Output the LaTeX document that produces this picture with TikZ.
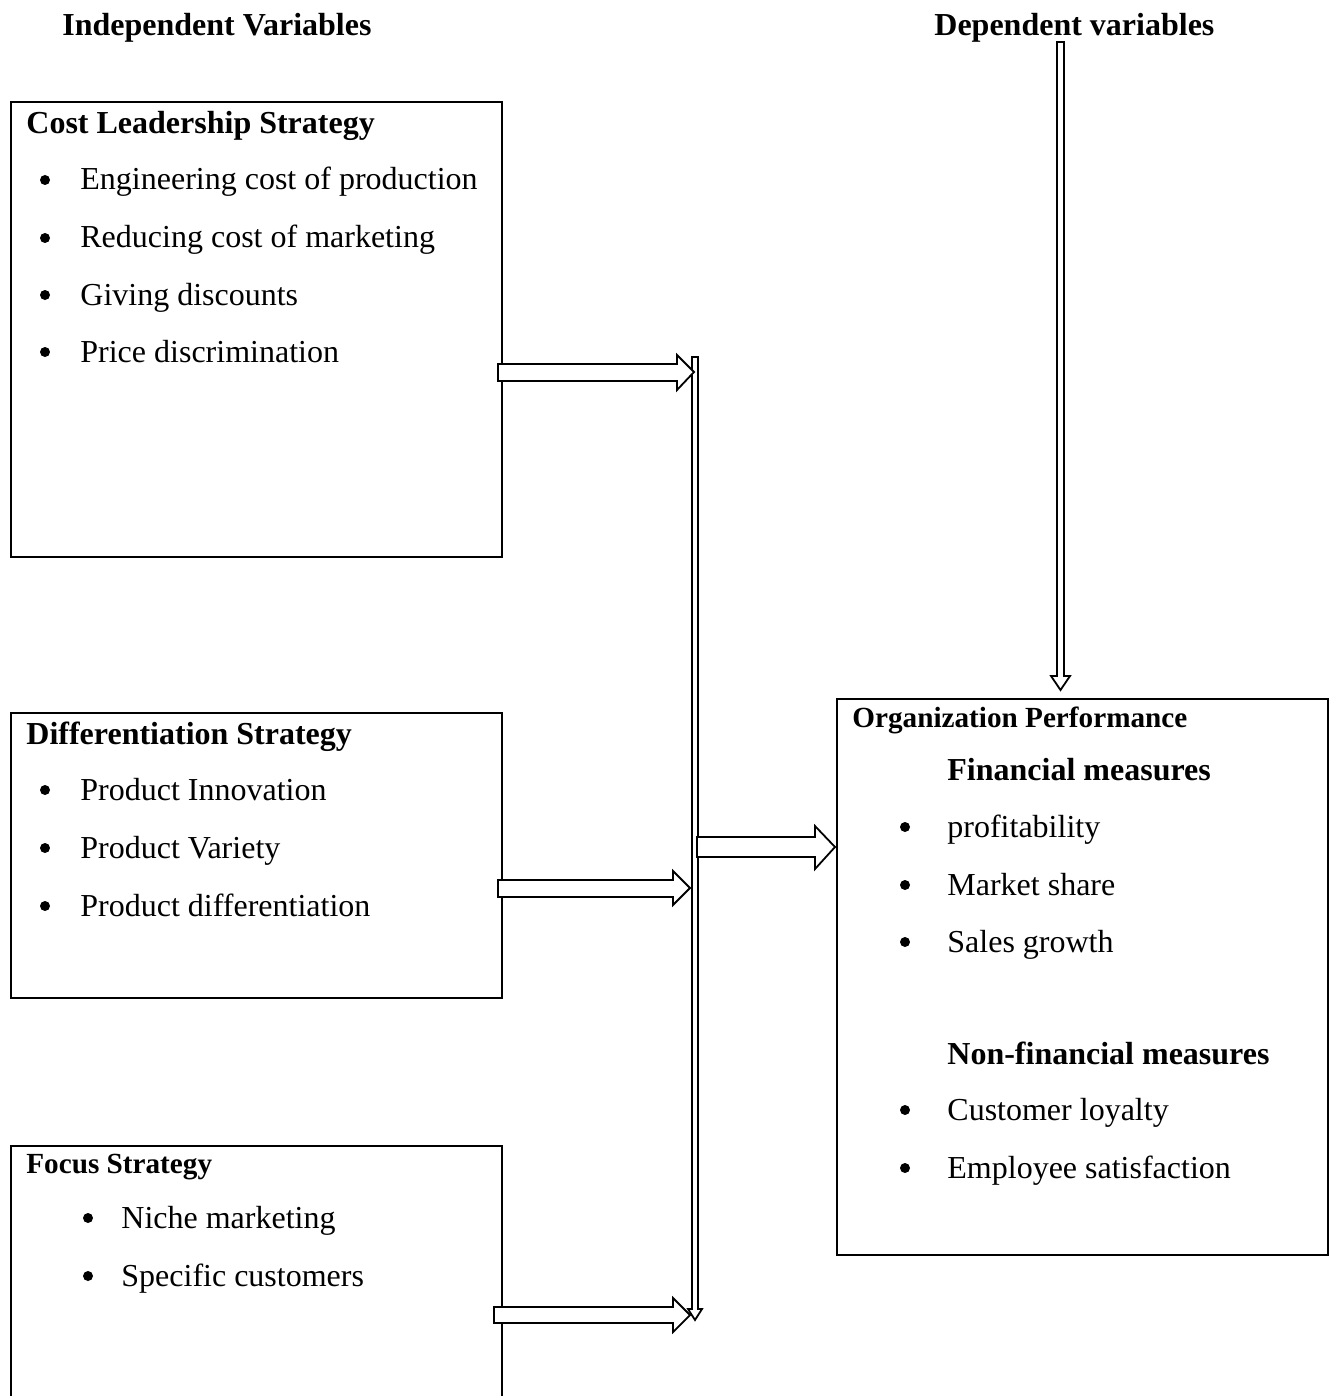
\documentclass[tikz,border=0pt]{standalone}
\usepackage{fontspec}
\setmainfont{Liberation Serif}
\begin{document}
\begin{tikzpicture}[x=0.5pt,y=-0.5pt,
  box/.style={draw,line width=1pt},
  txt/.style={anchor=base west,inner sep=0pt,font=\fontsize{16}{18}\selectfont},
  hd/.style={anchor=base west,inner sep=0pt,font=\fontsize{16}{18}\selectfont\bfseries},
  hds/.style={anchor=base west,inner sep=0pt,font=\fontsize{14.6}{16}\selectfont\bfseries},
  bul/.style={circle,fill=black,inner sep=0pt,minimum size=5pt},
  blk/.style={draw,line width=0.9pt,fill=white,line join=miter}]
\useasboundingbox (0,0) rectangle (1336,1396);
% boxes
\draw[box] (11,102) rectangle (502,557);
\draw[box] (11,713) rectangle (502,998);
\draw[box] (11,1400) -- (11,1146) -- (502,1146) -- (502,1400);
\draw[box] (837,699) rectangle (1328,1255);
% top headings
\node[hd] (iv) at (62,36) {Independent Variables};
\node[hd] (dv) at (934,36) {Dependent variables};
% box 1
\node[hd] (t1) at (26,134) {Cost Leadership Strategy};
\foreach \y/\t [count=\i] in {180/Engineering cost of production,238/Reducing cost of marketing,295/Giving discounts,352/Price discrimination}{
  \node[bul] (b1\i) at (45,\y) {};
  \node[txt] (i1\i) at (80,\y+10) {\t};
}
% box 2
\node[hd] (t2) at (26,744) {Differentiation Strategy};
\foreach \y/\t [count=\i] in {790/Product Innovation,848/Product Variety,906/Product differentiation}{
  \node[bul] (b2\i) at (45,\y) {};
  \node[txt] (i2\i) at (80,\y+10) {\t};
}
% box 3
\node[hds] (t3) at (26,1173) {Focus Strategy};
\foreach \y/\t [count=\i] in {1218/Niche marketing,1276/Specific customers}{
  \node[bul] (b3\i) at (88,\y) {};
  \node[txt] (i3\i) at (121,\y+10) {\t};
}
% box 4
\node[hds] (t4) at (852,727) {Organization Performance};
\node[hd] (f4) at (947,780) {Financial measures};
\foreach \y/\t [count=\i] in {827/profitability,885/Market share,942/Sales growth}{
  \node[bul] (b4\i) at (905,\y) {};
  \node[txt] (i4\i) at (947,\y+10) {\t};
}
\node[hd] (n4) at (947,1064) {Non-financial measures};
\foreach \y/\t [count=\i] in {1110/Customer loyalty,1168/Employee satisfaction}{
  \node[bul] (c4\i) at (905,\y) {};
  \node[txt] (j4\i) at (947,\y+10) {\t};
}
% vertical collector (thin block arrow down)
\draw[blk] (692,357) -- (698,357) -- (698,1309) -- (702,1309) -- (695,1320) -- (688,1309) -- (692,1309) -- cycle;
% top dependent arrow
\draw[blk] (1057,42) -- (1064,42) -- (1064,676) -- (1070,676) -- (1060.5,690) -- (1051,676) -- (1057,676) -- cycle;
% horizontal block arrows
\draw[blk] (498,364) -- (677,364) -- (677,355) -- (694,372) -- (677,390) -- (677,381) -- (498,381) -- cycle;
\draw[blk] (498,880) -- (673,880) -- (673,871) -- (690,888) -- (673,905) -- (673,897) -- (498,897) -- cycle;
\draw[blk] (494,1307) -- (673,1307) -- (673,1298) -- (690,1315) -- (673,1332) -- (673,1323) -- (494,1323) -- cycle;
\draw[blk] (697,837) -- (815,837) -- (815,826) -- (835,847) -- (815,869) -- (815,857) -- (697,857) -- cycle;
\end{tikzpicture}
\end{document}
